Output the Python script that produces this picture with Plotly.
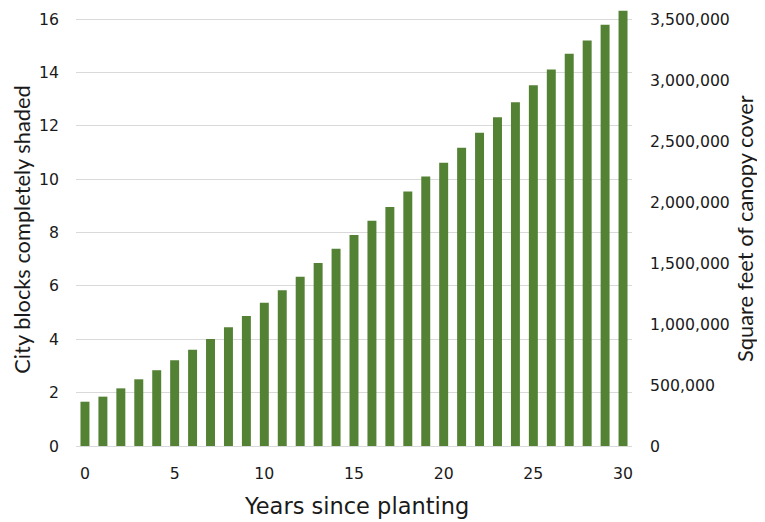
import plotly.graph_objects as go

years = list(range(0, 31))
city_blocks = [1.66, 1.85, 2.16, 2.50, 2.84, 3.21, 3.61, 4.01, 4.45, 4.87,
               5.37, 5.84, 6.34, 6.86, 7.39, 7.91, 8.44, 8.96, 9.54, 10.10,
               10.62, 11.18, 11.74, 12.32, 12.88, 13.52, 14.11, 14.70, 15.20, 15.79,
               16.31]
left_ticks = [0, 2, 4, 6, 8, 10, 12, 14, 16]
right_ticks = [0, 500000, 1000000, 1500000, 2000000, 2500000, 3000000, 3500000]
right_tick_text = ["0", "500,000", "1,000,000", "1,500,000", "2,000,000",
                   "2,500,000", "3,000,000", "3,500,000"]
x_ticks = [0, 5, 10, 15, 20, 25, 30]

SQFT_PER_BLOCK = 218750
LEFT_TOP = 16.34

TICK_FONT = "DejaVu Sans, sans-serif"
TITLE_FONT = "Lato, Carlito, Calibri, sans-serif"
TXT = "#1a1a1a"

fig = go.Figure()
fig.add_trace(go.Bar(x=years, y=city_blocks, marker=dict(color="#548235", line=dict(width=0)),
                     showlegend=False))
fig.add_trace(go.Scatter(x=[years[0]], y=[0], yaxis="y2", mode="markers",
                         marker=dict(opacity=0), showlegend=False, hoverinfo="skip"))

# page has an 8px body margin, so the figure is sized 757x514
fig.update_layout(
    width=757, height=514,
    margin=dict(l=68, r=133, t=2, b=76),
    paper_bgcolor="white", plot_bgcolor="white",
    font=dict(family=TICK_FONT, color=TXT, size=15.7),
    bargap=0.5,
    xaxis=dict(range=[-0.5, 30.5], tickvals=x_ticks, showgrid=False, zeroline=False,
               showline=False, ticks="", ticklabelstandoff=16, automargin=False),
    yaxis=dict(range=[0, LEFT_TOP], tickvals=left_ticks, showgrid=True, gridcolor="#d9d9d9",
               gridwidth=1, zeroline=True, zerolinecolor="#d9d9d9", zerolinewidth=1,
               showline=False, ticks="", ticklabelstandoff=16, automargin=False),
    yaxis2=dict(range=[0, LEFT_TOP * SQFT_PER_BLOCK], overlaying="y", side="right",
                tickvals=right_ticks, ticktext=right_tick_text, showgrid=False, zeroline=False,
                showline=False, ticks="", ticklabelstandoff=17, automargin=False),
    annotations=[
        dict(text="Years since planting", xref="paper", yref="paper", x=0.5036, y=-0.1376,
             xanchor="center", yanchor="middle", showarrow=False,
             font=dict(family=TICK_FONT, size=22.5, color=TXT)),
        dict(text="City blocks completely shaded", xref="paper", yref="paper", x=-0.0985,
             y=0.4966, textangle=-90, xanchor="center", yanchor="middle", showarrow=False,
             borderpad=0, font=dict(family=TITLE_FONT, size=21.8, color=TXT)),
        dict(text="Square feet of canopy cover", xref="paper", yref="paper", x=1.2014,
             y=0.5, textangle=-90, xanchor="center", yanchor="middle", showarrow=False,
             borderpad=0, font=dict(family=TITLE_FONT, size=21.8, color=TXT)),
    ],
)

fig.write_html("out.html")
